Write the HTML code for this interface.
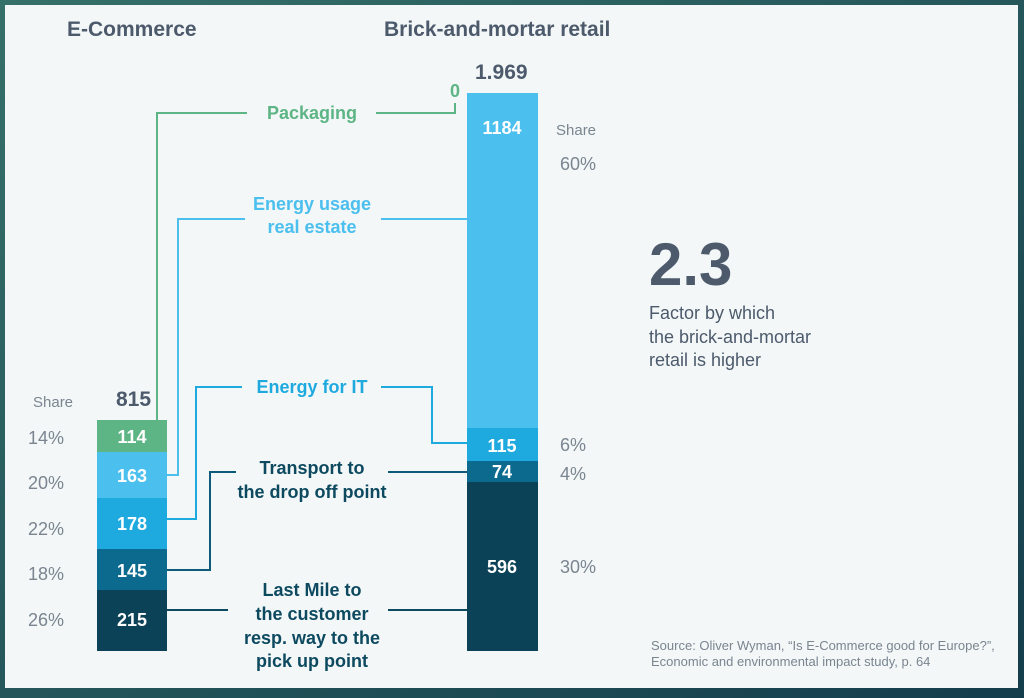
<!DOCTYPE html>
<html><head><meta charset="utf-8"><style>
html,body{margin:0;padding:0;width:1024px;height:698px;overflow:hidden;background:#2a5f60}
svg{display:block;font-family:"Liberation Sans",sans-serif}
</style></head><body>
<svg width="1024" height="698" viewBox="0 0 1024 698">
<defs><linearGradient id="bg" x1="0" y1="0" x2="1" y2="1"><stop offset="0" stop-color="#35706a"/><stop offset="1" stop-color="#143d4c"/></linearGradient></defs>
<rect width="1024" height="698" fill="url(#bg)"/>
<rect x="5" y="5" width="1013" height="683" fill="#f3f7f8"/>
<g font-size="21" fill="#4c5a6c" font-weight="bold">
<text x="67" y="36">E-Commerce</text>
<text x="384" y="36">Brick-and-mortar retail</text>
<text x="475" y="79">1.969</text>
<text x="116" y="406">815</text>
</g>
<rect x="97" y="420" width="70" height="32" fill="#5db585"/>
<rect x="97" y="452" width="70" height="46" fill="#4bbfee"/>
<rect x="97" y="498" width="70" height="51" fill="#1eaadf"/>
<rect x="97" y="549" width="70" height="41" fill="#0d6a8f"/>
<rect x="97" y="590" width="70" height="61" fill="#0c4258"/>
<rect x="467" y="93" width="71" height="335" fill="#4bbfee"/>
<rect x="467" y="428" width="71" height="33" fill="#1eaadf"/>
<rect x="467" y="461" width="71" height="21" fill="#0d6a8f"/>
<rect x="467" y="482" width="71" height="169" fill="#0c4258"/>
<g font-size="18" fill="#fff" text-anchor="middle" font-weight="bold">
<text x="132" y="443">114</text><text x="132" y="482">163</text><text x="132" y="530">178</text>
<text x="132" y="577">145</text><text x="132" y="626">215</text>
<text x="502" y="134">1184</text><text x="502" y="452">115</text><text x="502" y="478">74</text><text x="502" y="573">596</text>
</g>
<g fill="#7a8590" font-size="18">
<text x="28" y="444">14%</text><text x="28" y="489">20%</text><text x="28" y="535">22%</text><text x="28" y="580">18%</text><text x="28" y="626">26%</text>
<text x="560" y="170">60%</text><text x="560" y="451">6%</text><text x="560" y="480">4%</text><text x="560" y="573">30%</text>
<text x="33" y="407" font-size="15">Share</text><text x="556" y="135" font-size="15">Share</text>
</g>
<g fill="none" stroke-width="2">
<path d="M157 420V113H247M376 113H455V103" stroke="#5db585"/>
<path d="M167 475H178V219H245M381 219H467" stroke="#4bbfee"/>
<path d="M167 519H196V387H242M381 387H432V443H467" stroke="#1eaadf"/>
<path d="M167 570H210V472H236M388 472H467" stroke="#0d5a7a"/>
<path d="M167 610H228M388 610H467" stroke="#0d4a60"/>
</g>
<g font-size="18" font-weight="bold" text-anchor="middle">
<text x="312" y="119" fill="#5db585">Packaging</text>
<text x="455" y="97" fill="#5db585">0</text>
<text x="312" y="210" fill="#4bbfee">Energy usage</text>
<text x="312" y="233" fill="#4bbfee">real estate</text>
<text x="312" y="393" fill="#1eaadf">Energy for IT</text>
<g fill="#0d4a60"><text x="312" y="474">Transport to</text><text x="312" y="498">the drop off point</text>
<text x="312" y="596">Last Mile to</text><text x="312" y="620">the customer</text><text x="312" y="644">resp. way to the</text><text x="312" y="667">pick up point</text></g>
</g>
<text x="649" y="285" font-size="60" font-weight="bold" fill="#4c5a6c">2.3</text>
<g font-size="18" fill="#4c5a6c"><text x="649" y="319">Factor by which</text><text x="649" y="343">the brick-and-mortar</text><text x="649" y="366">retail is higher</text></g>
<g font-size="13" fill="#7a8590"><text x="651" y="650">Source: Oliver Wyman, “Is E-Commerce good for Europe?”,</text><text x="651" y="666">Economic and environmental impact study, p. 64</text></g>
</svg>
</body></html>
